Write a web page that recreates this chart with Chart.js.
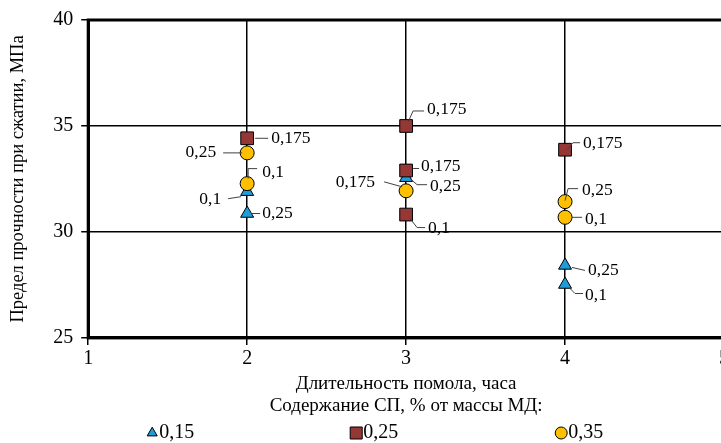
<!DOCTYPE html>
<html>
<head>
<meta charset="utf-8">
<script src="https://cdn.jsdelivr.net/npm/chart.js@4.4.1/dist/chart.umd.min.js"></script>
<style>
  html, body { margin: 0; padding: 0; background: #fff; overflow: hidden; }
  #wrap { width: 734px; height: 443px; }
</style>
</head>
<body>
<div id="wrap"><canvas id="chart"></canvas></div>
<script>
// Длительность помола (ч) и предел прочности (МПа) для трёх содержаний СП
const sp015Hours = [2, 2, 3, 4, 4];
const sp015Strength = [31.9, 30.87, 32.56, 28.42, 27.52];
const sp015Labels = ["0,1", "0,25", "0,25", "0,25", "0,1"];

const sp025Hours = [2, 3, 3, 3, 4];
const sp025Strength = [34.42, 35.0, 32.9, 30.82, 33.88];
const sp025Labels = ["0,175", "0,175", "0,175", "0,1", "0,175"];

const sp035Hours = [2, 2, 3, 4, 4];
const sp035Strength = [33.73, 32.28, 31.94, 31.43, 30.69];
const sp035Labels = ["0,25", "0,1", "0,175", "0,25", "0,1"];

const seriesNames = ["0,15", "0,25", "0,35"];
const xTicks = [1, 2, 3, 4, 5];
const yTicks = [25, 30, 35, 40];

// where each point label sits: text offset, alignment, leader line
const placeTri = [
  { dx: -26, dy: 8, align: "right", lead: [[-19, 7], [-6, 5]] },
  { dx: 15, dy: 0, align: "left", lead: [[4, 0], [13, 0]] },
  { dx: 24, dy: 9, align: "left", lead: [[4, 1], [11, 7], [21, 7]] },
  { dx: 23, dy: 5, align: "left", lead: [[7, 2], [20, 5]] },
  { dx: 20, dy: 11, align: "left", lead: [[5, 4], [10, 9], [18, 9]] }
];
const placeSq = [
  { dx: 24, dy: 0, align: "left", lead: [[8, 0], [21, 0]] },
  { dx: 21, dy: -17, align: "left", lead: [[2, -4], [7, -15], [18, -15]] },
  { dx: 15, dy: -4, align: "left", lead: [[7, -2], [13, -2]] },
  { dx: 22, dy: 14, align: "left", lead: [[4, 4], [11, 13], [19, 13]] },
  { dx: 18, dy: -6, align: "left", lead: [[2, 0], [8, -7], [15, -7]] }
];
const placeCirc = [
  { dx: -31, dy: 0, align: "right", lead: [[-24, 0], [-5, 0]] },
  { dx: 15, dy: -11, align: "left", lead: [[1, -5], [1, -15], [10, -15]] },
  { dx: -31, dy: -8, align: "right", lead: [[-22, -9], [-4, -4]] },
  { dx: 17, dy: -11, align: "left", lead: [[0, -1], [3, -13], [13, -13]] },
  { dx: 20, dy: 2, align: "left", lead: [[7, 0], [17, 0]] }
];

// legend slots: marker offset from the plot's left edge, marker size
const legendSlots = [
  { dx: 64, r: 5.8 },
  { dx: 268, r: 8.5 },
  { dx: 473, r: 6 }
];

const FONT = "'Liberation Serif', 'Times New Roman', serif";

function toPoints(xs, ys) {
  return xs.map((x, i) => ({ x: x, y: ys[i] }));
}

const pointLabels = {
  id: "pointLabels",
  afterDatasetsDraw(chart) {
    const ctx = chart.ctx;
    ctx.save();
    ctx.font = "17.5px " + FONT;
    ctx.textBaseline = "middle";
    chart.data.datasets.forEach((ds, di) => {
      const meta = chart.getDatasetMeta(di);
      meta.data.forEach((pt, i) => {
        const p = ds.place[i];
        ctx.strokeStyle = "#404040";
        ctx.lineWidth = 1;
        ctx.beginPath();
        p.lead.forEach((q, k) => {
          if (k === 0) ctx.moveTo(pt.x + q[0], pt.y + q[1]);
          else ctx.lineTo(pt.x + q[0], pt.y + q[1]);
        });
        ctx.stroke();
        ctx.fillStyle = "#000";
        ctx.textAlign = p.align;
        ctx.fillText(ds.texts[i], pt.x + p.dx, pt.y + p.dy);
      });
    });
    ctx.restore();
  }
};

// thick frame round the plot area
const plotFrame = {
  id: "plotFrame",
  beforeDatasetsDraw(chart) {
    const a = chart.chartArea;
    const ctx = chart.ctx;
    ctx.save();
    ctx.strokeStyle = "#000";
    ctx.lineWidth = 3;
    ctx.strokeRect(a.left, a.top, a.right - a.left, a.bottom - a.top);
    ctx.restore();
  }
};

// wide-spaced legend row along the bottom edge
const spreadLegend = {
  id: "spreadLegend",
  afterDraw(chart) {
    const ctx = chart.ctx;
    const cy = chart.height - 10;
    const left = chart.chartArea.left;
    ctx.save();
    ctx.font = "20px " + FONT;
    ctx.textBaseline = "middle";
    ctx.textAlign = "left";
    chart.data.datasets.forEach((ds, i) => {
      const slot = legendSlots[i];
      const cx = left + slot.dx;
      ctx.fillStyle = ds.backgroundColor;
      ctx.strokeStyle = ds.borderColor;
      ctx.lineWidth = 1;
      Chart.helpers.drawPoint(ctx, { pointStyle: ds.pointStyle, radius: slot.r, rotation: 0, borderWidth: 1 }, cx, cy);
      ctx.fillStyle = "#000";
      ctx.fillText(ds.label, cx + 7, cy);
    });
    ctx.restore();
  }
};

new Chart(document.getElementById("chart"), {
  type: "scatter",
  data: {
    datasets: [
      {
        label: seriesNames[0],
        data: toPoints(sp015Hours, sp015Strength),
        texts: sp015Labels,
        place: placeTri,
        pointStyle: "triangle",
        pointRadius: 7.5,
        pointHoverRadius: 7.5,
        backgroundColor: "#1f9ddb",
        borderColor: "#000",
        borderWidth: 1,
        order: 3
      },
      {
        label: seriesNames[1],
        data: toPoints(sp025Hours, sp025Strength),
        texts: sp025Labels,
        place: placeSq,
        pointStyle: "rect",
        pointRadius: 9,
        pointHoverRadius: 9,
        backgroundColor: "#953735",
        borderColor: "#000",
        borderWidth: 1,
        order: 2
      },
      {
        label: seriesNames[2],
        data: toPoints(sp035Hours, sp035Strength),
        texts: sp035Labels,
        place: placeCirc,
        pointStyle: "circle",
        pointRadius: 7,
        pointHoverRadius: 7,
        backgroundColor: "#ffc000",
        borderColor: "#000",
        borderWidth: 1,
        order: 1
      }
    ]
  },
  options: {
    responsive: true,
    maintainAspectRatio: false,
    animation: false,
    layout: { padding: { top: 2, left: 7, right: 0, bottom: 24 } },
    plugins: {
      tooltip: { enabled: false },
      legend: { display: false }
    },
    scales: {
      x: {
        type: "linear",
        min: xTicks[0],
        max: xTicks[xTicks.length - 1],
        afterBuildTicks: s => { s.ticks = xTicks.map(v => ({ value: v })); },
        ticks: { color: "#000", font: { family: FONT, size: 20 }, padding: 2 },
        grid: { color: "#000", lineWidth: 1.5, tickLength: 7 },
        border: { color: "#000", width: 3 },
        title: {
          display: true,
          text: ["Длительность помола, часа", "Содержание СП, % от массы МД:"],
          color: "#000",
          font: { family: FONT, size: 19, lineHeight: 1.16 },
          padding: { top: 0, bottom: 2 }
        }
      },
      y: {
        min: yTicks[0],
        max: yTicks[yTicks.length - 1],
        afterBuildTicks: s => { s.ticks = yTicks.map(v => ({ value: v })); },
        ticks: { color: "#000", font: { family: FONT, size: 20 }, padding: 8 },
        grid: { color: "#000", lineWidth: 1.5, tickLength: 7 },
        border: { color: "#000", width: 3 },
        title: {
          display: true,
          text: "Предел прочности при сжатии, МПа",
          color: "#000",
          font: { family: FONT, size: 18.5 },
          padding: { top: 0, bottom: 16 }
        }
      }
    }
  },
  plugins: [plotFrame, pointLabels, spreadLegend]
});
</script>
</body>
</html>
